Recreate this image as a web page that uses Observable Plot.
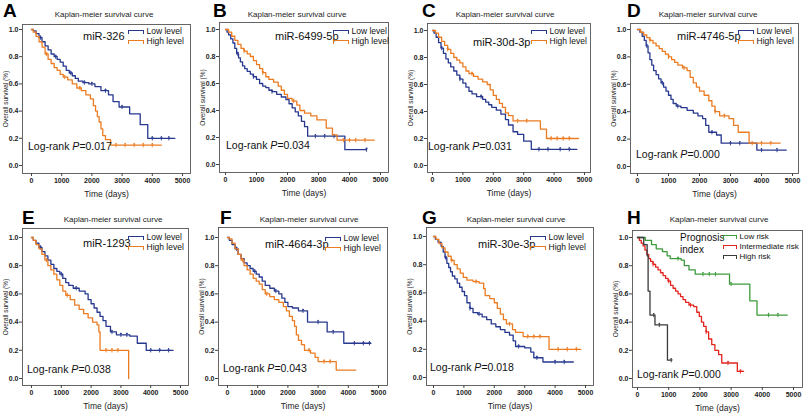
<!DOCTYPE html>
<html><head><meta charset="utf-8">
<script src="https://cdn.jsdelivr.net/npm/d3@7"></script>
<script src="https://cdn.jsdelivr.net/npm/@observablehq/plot@0.6"></script>
<style>
body{margin:0;background:#fff;font-family:"Liberation Sans",Arial,sans-serif;}
#root{position:relative;width:810px;height:413px;overflow:hidden;background:#fff;}
.abs{position:absolute;white-space:nowrap;line-height:1;color:#111;}
.letter{font-weight:bold;font-size:19px;color:#000;}
.title{font-size:8px;transform:translateX(-50%);color:#222;}
.mir{font-size:11px;}
.lr{font-size:10.5px;}
.leg{font-size:8.5px;}
.key{position:absolute;height:4px;border:1.4px solid;border-bottom:none;box-sizing:border-box;}
svg.kmplot{position:absolute;overflow:visible;}
svg.kmplot g[aria-label="y-axis label"] text{font-size:6.5px;font-weight:normal;}
svg.kmplot g[aria-label="x-axis label"] text{font-size:8.5px;font-weight:normal;}
</style></head><body><div id="root"></div>
<script>
// ---------- data ----------
const xTicks = [0, 1000, 2000, 3000, 4000, 5000];
const yTicks = [0, 0.2, 0.4, 0.6, 0.8, 1.0];
const panelLetters = ["A","B","C","D","E","F","G","H"];
const mirNames = ["miR-326","miR-6499-5p","miR-30d-3p","miR-4746-5p","miR-1293","miR-4664-3p","miR-30e-3p","Prognosis index"];
const pValues = ["0.017","0.034","0.031","0.000","0.038","0.043","0.018","0.000"];
const levelLabels = ["Low level","High level"];
const riskLabels = ["Low risk","Intermediate risk","High risk"];

const aLow = [[0,1],[60,0.99],[150,0.97],[250,0.94],[350,0.91],[450,0.88],[550,0.85],[650,0.82],[750,0.80],[850,0.78],[950,0.76],[1050,0.73],[1150,0.70],[1250,0.68],[1350,0.66],[1450,0.64],[1550,0.62],[1700,0.61],[1900,0.60],[2100,0.58],[2300,0.55],[2550,0.52],[2700,0.47],[2900,0.43],[3250,0.38],[3600,0.30],[3850,0.20],[4750,0.20]];
const aHigh = [[0,1],[60,0.98],[150,0.95],[250,0.91],[350,0.87],[450,0.82],[550,0.78],[650,0.75],[750,0.72],[850,0.70],[950,0.67],[1050,0.65],[1200,0.63],[1350,0.60],[1500,0.57],[1650,0.55],[1800,0.52],[1950,0.49],[2050,0.44],[2120,0.40],[2180,0.36],[2240,0.32],[2300,0.27],[2360,0.22],[2450,0.19],[2620,0.15],[4300,0.15]];
const aLowC = [300,800,1300,1750,2000,2450,3000,4000,4300,4550];
const aHighC = [500,1100,1600,2800,3100,3400,3700,4000];

const bLow = [[0,1],[50,0.98],[100,0.96],[170,0.93],[240,0.90],[300,0.86],[360,0.82],[420,0.79],[480,0.76],[550,0.73],[620,0.71],[700,0.69],[800,0.67],[900,0.65],[1000,0.63],[1100,0.60],[1200,0.58],[1300,0.57],[1400,0.55],[1500,0.54],[1650,0.52],[1800,0.50],[1950,0.48],[2050,0.45],[2150,0.42],[2250,0.39],[2350,0.36],[2450,0.32],[2550,0.28],[2650,0.21],[3850,0.11],[4550,0.11]];
const bHigh = [[0,1],[100,0.98],[200,0.95],[300,0.92],[400,0.89],[500,0.86],[600,0.84],[700,0.82],[800,0.80],[900,0.77],[1000,0.74],[1100,0.71],[1200,0.68],[1300,0.65],[1400,0.63],[1550,0.61],[1700,0.58],[1800,0.55],[1900,0.52],[2000,0.49],[2150,0.47],[2300,0.44],[2400,0.40],[2550,0.38],[2750,0.36],[2950,0.33],[3250,0.27],[3450,0.22],[3600,0.18],[4800,0.18]];
const bLowC = [400,900,1500,2900,3200,3500,4550];
const bHighC = [600,1200,2200,3800,4000,4200,4500];

const cLow = [[0,1],[50,0.98],[120,0.95],[200,0.91],[280,0.87],[360,0.83],[440,0.79],[520,0.76],[600,0.73],[700,0.70],[800,0.67],[900,0.64],[1000,0.61],[1100,0.58],[1200,0.55],[1300,0.53],[1450,0.51],[1650,0.49],[1750,0.47],[1850,0.45],[1950,0.43],[2100,0.41],[2250,0.38],[2400,0.34],[2500,0.30],[2650,0.25],[2800,0.23],[3000,0.18],[3250,0.12],[4750,0.12]];
const cHigh = [[0,1],[100,0.98],[200,0.95],[300,0.92],[400,0.89],[500,0.86],[600,0.83],[700,0.80],[800,0.78],[900,0.76],[1000,0.73],[1100,0.70],[1200,0.68],[1350,0.66],[1500,0.64],[1650,0.62],[1800,0.60],[1900,0.56],[2000,0.52],[2100,0.49],[2200,0.46],[2300,0.43],[2400,0.39],[2500,0.37],[2650,0.33],[3550,0.27],[3750,0.20],[4800,0.20]];
const cLowC = [300,900,1600,3500,3800,4200,4500];
const cHighC = [500,1300,2800,3100,3900,4100,4300,4500];

const dLow = [[0,1],[80,0.98],[150,0.95],[220,0.92],[280,0.88],[340,0.83],[400,0.78],[460,0.74],[520,0.70],[600,0.67],[680,0.64],[760,0.61],[840,0.58],[920,0.55],[1000,0.52],[1080,0.49],[1150,0.46],[1250,0.44],[1400,0.43],[1600,0.41],[1800,0.39],[1950,0.37],[2100,0.35],[2200,0.30],[2300,0.25],[2550,0.23],[2700,0.17],[3850,0.12],[4800,0.12]];
const dHigh = [[0,1],[100,0.98],[200,0.96],[300,0.94],[400,0.92],[500,0.90],[600,0.88],[700,0.86],[800,0.84],[900,0.82],[1000,0.80],[1100,0.78],[1200,0.76],[1300,0.74],[1450,0.72],[1600,0.70],[1700,0.65],[1800,0.61],[1900,0.58],[2000,0.55],[2150,0.52],[2300,0.48],[2400,0.44],[2500,0.40],[2650,0.37],[2950,0.35],[3100,0.30],[3250,0.25],[3600,0.17],[4600,0.17]];
const dLowC = [300,800,1300,2400,3000,3300,4000,4500];
const dHighC = [400,1000,1500,2500,2800,3700,4000,4300];

const eLow = [[0,1],[60,0.98],[150,0.96],[250,0.93],[350,0.90],[450,0.87],[550,0.84],[650,0.81],[750,0.78],[850,0.76],[950,0.74],[1050,0.71],[1150,0.68],[1250,0.66],[1400,0.64],[1600,0.62],[1800,0.60],[1900,0.56],[2000,0.53],[2100,0.50],[2200,0.47],[2300,0.44],[2400,0.41],[2500,0.37],[2650,0.33],[2850,0.31],[3300,0.30],[3550,0.25],[3850,0.20],[4750,0.20]];
const eHigh = [[0,1],[60,0.98],[150,0.95],[250,0.92],[350,0.88],[450,0.84],[550,0.80],[650,0.77],[750,0.74],[850,0.70],[950,0.66],[1050,0.62],[1150,0.59],[1300,0.56],[1450,0.52],[1600,0.49],[1750,0.46],[1900,0.43],[2050,0.40],[2200,0.38],[2260,0.33],[2300,0.20],[3250,0.20],[3260,0.0]];
const eLowC = [300,1000,1500,2700,3000,3200,4000,4300,4600];
const eHighC = [500,1200,2500,2700,2900];

const fLow = [[0,1],[60,0.98],[150,0.95],[250,0.92],[350,0.88],[450,0.85],[550,0.82],[650,0.80],[750,0.78],[850,0.76],[950,0.74],[1050,0.72],[1150,0.69],[1250,0.66],[1400,0.64],[1550,0.62],[1700,0.60],[1800,0.57],[1900,0.54],[2000,0.51],[2150,0.50],[2350,0.48],[2650,0.40],[3300,0.33],[3850,0.25],[4750,0.25]];
const fHigh = [[0,1],[60,0.99],[150,0.96],[250,0.92],[350,0.88],[450,0.84],[550,0.80],[650,0.77],[750,0.74],[850,0.71],[950,0.69],[1050,0.67],[1150,0.63],[1250,0.60],[1400,0.58],[1550,0.56],[1700,0.54],[1850,0.51],[1950,0.48],[2050,0.44],[2150,0.41],[2220,0.37],[2280,0.31],[2350,0.27],[2450,0.24],[2550,0.20],[2750,0.18],[2900,0.15],[3000,0.12],[3600,0.06],[4250,0.06]];
const fLowC = [300,900,1600,2500,3000,3500,4200,4500,4700];
const fHighC = [500,1300,2700,3200,3400];

const gLow = [[0,1],[60,0.98],[150,0.96],[250,0.93],[320,0.89],[380,0.85],[440,0.81],[500,0.78],[560,0.75],[620,0.72],[700,0.70],[780,0.67],[860,0.64],[940,0.61],[1020,0.58],[1100,0.53],[1200,0.49],[1300,0.46],[1450,0.45],[1600,0.43],[1750,0.41],[1900,0.38],[2050,0.36],[2200,0.34],[2350,0.32],[2500,0.30],[2620,0.26],[2700,0.22],[3000,0.21],[3200,0.18],[3300,0.14],[3600,0.11],[4600,0.11]];
const gHigh = [[0,1],[80,0.98],[180,0.95],[280,0.92],[380,0.89],[480,0.86],[580,0.83],[680,0.80],[780,0.77],[880,0.74],[980,0.71],[1100,0.69],[1300,0.68],[1500,0.67],[1650,0.63],[1700,0.58],[1850,0.56],[2000,0.53],[2100,0.49],[2200,0.45],[2300,0.41],[2400,0.38],[2600,0.34],[2700,0.32],[2950,0.29],[3800,0.20],[4850,0.20]];
const gLowC = [400,1200,1500,2800,3400,4000,4300];
const gHighC = [600,1400,2500,3100,3300,3500,4100,4400,4700];

const hLow = [[0,1],[250,0.98],[450,0.95],[600,0.92],[800,0.90],[950,0.87],[1050,0.85],[1400,0.84],[1500,0.80],[1650,0.77],[1850,0.74],[2950,0.67],[3600,0.55],[3830,0.45],[4800,0.45]];
const hMid = [[0,1],[60,0.98],[120,0.96],[180,0.94],[240,0.91],[300,0.88],[360,0.85],[420,0.83],[500,0.81],[580,0.79],[660,0.77],[740,0.75],[820,0.73],[900,0.71],[980,0.69],[1060,0.66],[1140,0.64],[1220,0.62],[1300,0.60],[1380,0.58],[1460,0.56],[1540,0.54],[1650,0.52],[1800,0.51],[1900,0.47],[1980,0.44],[2050,0.40],[2120,0.37],[2200,0.33],[2280,0.28],[2380,0.24],[2480,0.20],[2600,0.17],[2700,0.11],[3200,0.05],[3400,0.05]];
const hHigh = [[0,1],[200,0.95],[310,0.87],[340,0.62],[400,0.45],[560,0.38],[960,0.13],[1100,0.13]];
const hLowC = [1300,2100,2300,2500,3000,4200,4500];
const hMidC = [500,1000,1700,2200,2900,3300];
const hHighC = [520,700,1080];

// ---------- styles / layout ----------
const BLUE = "#27388f", ORANGE = "#ec7c22", GREEN = "#3c9c3c", RED = "#e3241f", BLACK = "#3b3b3b";
const layout = [
  {L:22,R:190,T:24,B:173,x0:31,x5:182,y1:29,y0:165, letter:[3,11.5], title:[104,15], mir:[83,37], leg:[128,32], lr:[28,147]},
  {L:219,R:388,T:22,B:172,x0:225,x5:380,y1:29,y0:164, letter:[213,11.5], title:[297,15], mir:[275,37], leg:[333,32], lr:[226,146]},
  {L:427,R:590,T:23,B:172,x0:432,x5:584,y1:30,y0:165, letter:[422,11.5], title:[505,15], mir:[473,43], leg:[531,32], lr:[428,147]},
  {L:630,R:798,T:23,B:173,x0:637,x5:792,y1:29,y0:166, letter:[627,11.5], title:[708,15], mir:[677,37], leg:[738,32], lr:[636,155]},
  {L:22,R:188,T:228,B:385,x0:31,x5:180,y1:237,y0:378, letter:[22,218.5], title:[113,220], mir:[83,244], leg:[128,238], lr:[27,370]},
  {L:218,R:387,T:227,B:385,x0:227,x5:378,y1:237,y0:378, letter:[220,218.5], title:[309,220], mir:[265,245], leg:[325,239], lr:[223,369]},
  {L:426,R:593,T:227,B:385,x0:433,x5:585,y1:236,y0:377, letter:[422,218.5], title:[516,220], mir:[478,245], leg:[530,238], lr:[430,368]},
  {L:632,R:802,T:230,B:387,x0:637,x5:793,y1:237,y0:378, letter:[627,218.5], title:[719,220], mir:[680,238], leg:[723,237], lr:[637,375]}
];

const panelSeries = [
  [{data:aLow,cens:aLowC,color:BLUE},{data:aHigh,cens:aHighC,color:ORANGE}],
  [{data:bLow,cens:bLowC,color:BLUE},{data:bHigh,cens:bHighC,color:ORANGE}],
  [{data:cLow,cens:cLowC,color:BLUE},{data:cHigh,cens:cHighC,color:ORANGE}],
  [{data:dLow,cens:dLowC,color:BLUE},{data:dHigh,cens:dHighC,color:ORANGE}],
  [{data:eLow,cens:eLowC,color:BLUE},{data:eHigh,cens:eHighC,color:ORANGE}],
  [{data:fLow,cens:fLowC,color:BLUE},{data:fHigh,cens:fHighC,color:ORANGE}],
  [{data:gLow,cens:gLowC,color:BLUE},{data:gHigh,cens:gHighC,color:ORANGE}],
  [{data:hLow,cens:hLowC,color:GREEN},{data:hMid,cens:hMidC,color:RED},{data:hHigh,cens:hHighC,color:BLACK}]
];

const root = document.getElementById("root");
function survAt(data, t) {
  let s = data[0][1];
  for (const [tt, v] of data) { if (tt <= t) s = v; else break; }
  return s;
}
function addText(html, x, cy, fs, cls, extra) {
  const d = document.createElement("div");
  d.className = "abs " + cls;
  d.innerHTML = html;
  d.style.left = x + "px";
  d.style.top = (cy - 0.53 * fs) + "px";
  if (extra) Object.assign(d.style, extra);
  root.appendChild(d);
  return d;
}

layout.forEach((cfg, i) => {
  const series = panelSeries[i];
  const kx = (cfg.x5 - cfg.x0) / 5000;
  const xDom = [-(cfg.x0 - cfg.L) / kx, 5000 + (cfg.R - cfg.x5) / kx];
  const ky = cfg.y0 - cfg.y1;
  const yDom = [-(cfg.B - cfg.y0) / ky, 1 + (cfg.y1 - cfg.T) / ky];
  const mL = 22, mT = 4, mR = 4, mB = 30;
  const marks = [
    Plot.frame({stroke: "#555", strokeWidth: 0.9}),
    Plot.axisX({ticks: xTicks, tickFormat: d3.format("d"), tickSize: 3, tickPadding: 1.5, stroke: "#444",
      label: "Time (days)", labelAnchor: "center", labelOffset: 23, labelArrow: "none"}),
    Plot.axisY({ticks: yTicks, tickFormat: d3.format(".1f"), tickSize: 3, tickPadding: 1, stroke: "#444",
      label: "Overall survival (%)", labelAnchor: "center", labelOffset: 19.5, labelArrow: "none"})
  ];
  series.forEach(s => {
    marks.push(Plot.line(s.data, {x: d => d[0], y: d => d[1], curve: "step-after", stroke: s.color, strokeWidth: 1.3}));
    const cd = s.cens.map(t => ({t, v: survAt(s.data, t)}));
    marks.push(Plot.vector(cd, {x: "t", y: "v", length: 3.5, anchor: "middle", stroke: s.color, strokeWidth: 0.9}));
  });
  const svg = Plot.plot({
    width: cfg.R - cfg.L + mL + mR,
    height: cfg.B - cfg.T + mT + mB,
    marginLeft: mL, marginRight: mR, marginTop: mT, marginBottom: mB,
    x: {domain: xDom, labelArrow: "none"},
    y: {domain: yDom, labelArrow: "none"},
    style: {fontFamily: "'Liberation Sans', Arial, sans-serif", fontSize: "7px", fontWeight: "bold", color: "#222", background: "transparent", overflow: "visible"},
    marks
  });
  svg.classList.add("kmplot");
  svg.style.left = (cfg.L - mL) + "px";
  svg.style.top = (cfg.T - mT) + "px";
  root.appendChild(svg);

  addText(panelLetters[i], cfg.letter[0], cfg.letter[1], 19, "letter");
  addText("Kaplan-meier survival curve", cfg.title[0], cfg.title[1], 8, "title");
  if (i < 7) {
    addText(mirNames[i], cfg.mir[0], cfg.mir[1], 11, "mir");
  } else {
    const [w1, w2] = mirNames[i].split(" ");
    addText(w1, cfg.mir[0], cfg.mir[1], 10, "mir", {fontSize: "10px"});
    addText(w2, cfg.mir[0], cfg.mir[1] + 12, 10, "mir", {fontSize: "10px"});
  }
  const labels = i < 7 ? levelLabels : riskLabels;
  const kw = i < 7 ? 16 : 14;
  const rowGap = 10;
  labels.forEach((lab, j) => {
    const cy = cfg.leg[1] + j * rowGap;
    const k = document.createElement("div");
    k.className = "key";
    k.style.left = cfg.leg[0] + "px";
    k.style.top = (cy - 2.5) + "px";
    k.style.width = kw + "px";
    k.style.borderColor = series[j].color;
    root.appendChild(k);
    addText(lab, cfg.leg[0] + kw + 2.5, cy, i < 7 ? 8.5 : 8, "leg", i < 7 ? null : {fontSize: "8px"});
  });
  addText("Log-rank <i>P</i>=" + pValues[i], cfg.lr[0], cfg.lr[1], 10.5, "lr");
});
</script>
</body></html>
